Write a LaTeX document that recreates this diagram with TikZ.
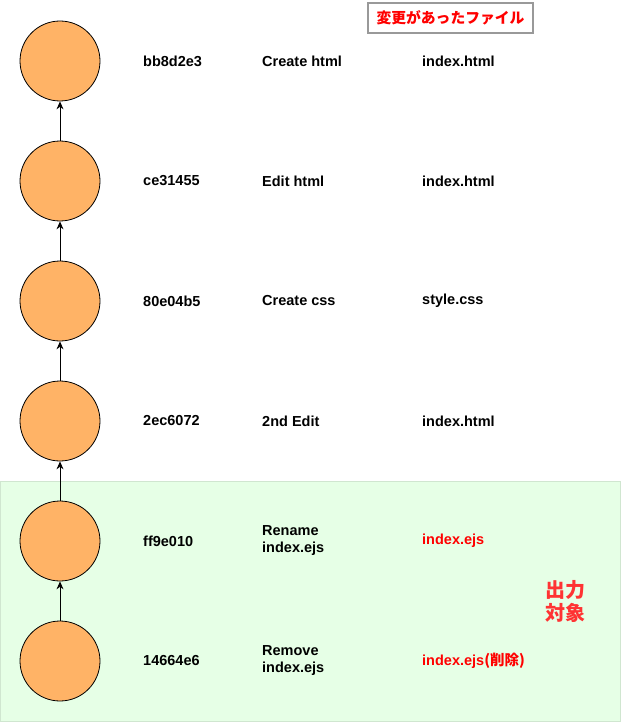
\documentclass[tikz,border=0pt]{standalone}
\usepackage{fontspec}
\setmainfont{Liberation Sans}
\newfontfamily\jpfont{Noto Sans CJK JP}
\usetikzlibrary{arrows.meta}
\definecolor{commitfill}{HTML}{FFB366}
\definecolor{areafill}{HTML}{E6FFE6}
\definecolor{areaedge}{HTML}{D0E6D0}
\definecolor{boxedge}{HTML}{999999}
\definecolor{redtxt}{HTML}{FF0000}
\definecolor{bigred}{HTML}{FF3333}
\tikzset{
  commit/.style={circle,draw=black,fill=commitfill,minimum size=80pt,inner sep=0pt,line width=0.8pt},
  txt/.style={anchor=west,font=\fontsize{14.5}{17}\selectfont\bfseries,align=left,inner sep=0pt},
  redfile/.style={txt,text=redtxt},
  link/.style={-{Stealth[length=8pt,width=7pt]},line width=0.8pt}
}
\begin{document}
\begin{tikzpicture}[x=1pt,y=-1pt]
\useasboundingbox (0,0) rectangle (621,722);
\draw[fill=areafill,draw=areaedge,line width=0.8pt] (0.5,481) rectangle (620.5,721);
\node[draw=boxedge,line width=1.6pt,fill=white,minimum width=165pt,minimum height=30pt,inner sep=0pt,text=redtxt,font=\jpfont\fontsize{14.8}{17}\selectfont\bfseries] (hdr) at (450.5,18) {変更があったファイル};
\foreach \i/\y in {1/61,2/181,3/301,4/421,5/541,6/661}{
  \node[commit] (c\i) at (60,\y) {};
}
\draw[link] (c2) -- (c1);
\draw[link] (c3) -- (c2);
\draw[link] (c4) -- (c3);
\draw[link] (c5) -- (c4);
\draw[link] (c6) -- (c5);
\node[txt] (h1) at (143,61) {bb8d2e3};
\node[txt] (m1) at (262,61) {Create html};
\node[txt] (f1) at (422,61) {index.html};
\node[txt] (h2) at (143,181) {ce31455};
\node[txt] (m2) at (262,181) {Edit html};
\node[txt] (f2) at (422,181) {index.html};
\node[txt] (h3) at (143,301) {80e04b5};
\node[txt] (m3) at (262,301) {Create css};
\node[txt] (f3) at (422,301) {style.css};
\node[txt] (h4) at (143,421) {2ec6072};
\node[txt] (m4) at (262,421) {2nd Edit};
\node[txt] (f4) at (422,421) {index.html};
\node[txt] (h5) at (143,541) {ff9e010};
\node[txt] (m5) at (262,541) {Rename\\index.ejs};
\node[redfile] (f5) at (422,541) {index.ejs};
\node[txt] (h6) at (143,661) {14664e6};
\node[txt] (m6) at (262,661) {Remove\\index.ejs};
\node[redfile] (f6) at (422,661) {index.ejs{\jpfont(削除)}};
\node[text=bigred,font=\jpfont\fontsize{20}{23}\selectfont\bfseries,align=center,inner sep=0pt] (out) at (565,601) {出力\\対象};
\end{tikzpicture}
\end{document}
